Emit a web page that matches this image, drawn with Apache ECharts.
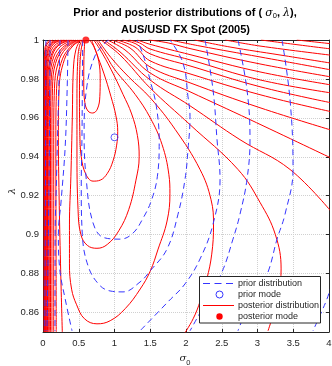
<!DOCTYPE html>
<html><head><meta charset="utf-8">
<script src="https://cdn.jsdelivr.net/npm/echarts@6/dist/echarts.min.js"></script>
<style>html,body{margin:0;padding:0;background:#fff}#c{width:332px;height:366px}</style>
</head><body><div id="c"></div>
<script>
// ---------- axis ticks ----------
const xTicks = [0, 0.5, 1, 1.5, 2, 2.5, 3, 3.5, 4];
const yTicks = [0.86, 0.88, 0.9, 0.92, 0.94, 0.96, 0.98, 1];
const legendNames = ['prior distribution', 'prior mode', 'posterior distribution', 'posterior mode'];

// ---------- modes ----------
const priorMode = [[1, 0.95]];
const posteriorMode = [[0.6, 1]];

// ---------- posterior contours (sigma0, lambda) ----------
const postC1 = [[0.585,1],[0.572,0.99],[0.57,0.978],[0.585,0.968],[0.63,0.9635],[0.695,0.9625],[0.76,0.9645],[0.795,0.971],[0.8,0.98],[0.78,0.989],[0.72,0.996],[0.65,1]];
const postC2 = [[0.56,1],[0.53,0.994],[0.515,0.985],[0.51,0.97],[0.515,0.953],[0.535,0.94],[0.6,0.931],[0.7,0.9275],[0.8,0.928],[0.9,0.9315],[0.98,0.938],[1.03,0.946],[1.045,0.953],[1.02,0.961],[0.95,0.971],[0.85,0.983],[0.74,0.994],[0.68,1]];
const postC3 = [[0.545,1],[0.505,0.996],[0.485,0.989],[0.475,0.97],[0.475,0.944],[0.49,0.913],[0.53,0.9],[0.62,0.8945],[0.755,0.893],[0.9,0.895],[1.06,0.902],[1.2,0.913],[1.3,0.928],[1.345,0.94],[1.32,0.951],[1.24,0.962],[1.12,0.972],[0.95,0.985],[0.8,0.995],[0.71,1]];
const postC4 = [[0.52,1],[0.46,0.995],[0.425,0.985],[0.41,0.96],[0.39,0.93],[0.37,0.905],[0.37,0.885],[0.4,0.872],[0.47,0.864],[0.58,0.8568],[0.755,0.8542],[0.94,0.8558],[1.15,0.862],[1.36,0.8721],[1.5,0.8813],[1.61,0.8926],[1.735,0.907],[1.775,0.921],[1.76,0.931],[1.665,0.9463],[1.5,0.96],[1.29,0.972],[1.0,0.985],[0.85,0.994],[0.74,1]];
const postC5L = [[0.545,1],[0.42,0.997],[0.3,0.99],[0.225,0.975],[0.215,0.95],[0.225,0.92],[0.245,0.885],[0.27,0.85]];
const postC5R = [[0.77,1],[0.95,0.991],[1.2,0.981],[1.5,0.9703],[1.85,0.954],[2.196,0.9335],[2.35,0.918],[2.385,0.905],[2.36,0.89],[2.29,0.877],[2.2,0.866],[2.1,0.8568],[1.958,0.848]];
const postC6L = [[0.53,1],[0.37,0.996],[0.25,0.988],[0.19,0.975],[0.18,0.95],[0.182,0.9],[0.185,0.85]];
const postC6R = [[0.81,1],[1.077,0.9923],[1.497,0.9754],[2.056,0.9565],[2.727,0.9335],[3.035,0.9166],[3.25,0.9],[3.33,0.8824],[3.3,0.87],[3.245,0.8619],[3.147,0.8506]];
const postC7L = [[0.51,1],[0.33,0.996],[0.21,0.988],[0.16,0.975],[0.15,0.95],[0.15,0.85]];
const postC7R = [[0.85,1],[1.077,0.9939],[1.497,0.9795],[2.056,0.9662],[2.755,0.9488],[3.455,0.9335],[4.05,0.911]];
const postC8L = [[0.49,1],[0.3,0.996],[0.175,0.988],[0.133,0.975],[0.125,0.95],[0.125,0.85]];
const postC8R = [[0.9,1],[1.147,0.9949],[1.497,0.9831],[2.056,0.9734],[2.895,0.9591],[4.05,0.939]];
const postC9L = [[0.46,1],[0.27,0.996],[0.15,0.988],[0.112,0.976],[0.105,0.95],[0.105,0.85]];
const postC9R = [[0.96,1],[1.217,0.9959],[1.497,0.9862],[2.056,0.978],[3.035,0.9652],[4.05,0.9535]];
const postC10L = [[0.43,1],[0.24,0.9965],[0.13,0.989],[0.095,0.977],[0.088,0.95],[0.088,0.85]];
const postC10R = [[1.03,1],[1.287,0.9964],[1.497,0.9893],[2.056,0.9826],[3.035,0.9719],[4.05,0.963]];
const postC11L = [[0.4,1],[0.21,0.997],[0.115,0.99],[0.08,0.978],[0.074,0.95],[0.074,0.85]];
const postC11R = [[1.11,1],[1.3,0.998],[1.497,0.9929],[2.056,0.9867],[3.035,0.976],[4.05,0.9676]];
const postC12L = [[0.37,1],[0.19,0.997],[0.1,0.99],[0.068,0.979],[0.063,0.95],[0.063,0.85]];
const postC12R = [[1.2,1],[1.35,0.9985],[1.497,0.9954],[2.056,0.9898],[3.035,0.9795],[4.05,0.9727]];
const postC13L = [[0.34,1],[0.17,0.9975],[0.085,0.991],[0.058,0.98],[0.053,0.95],[0.053,0.85]];
const postC13R = [[1.32,1],[1.497,0.9978],[2.056,0.9925],[3.035,0.9836],[4.05,0.9768]];
const postC14L = [[0.3,1],[0.15,0.998],[0.075,0.992],[0.05,0.981],[0.045,0.95],[0.045,0.85]];
const postC14R = [[1.48,1],[1.75,0.9985],[2.056,0.9956],[3.035,0.9877],[4.05,0.9809]];
const postC15L = [[0.26,1],[0.13,0.998],[0.065,0.993],[0.042,0.982],[0.038,0.95],[0.038,0.85]];
const postC15R = [[1.78,1],[2.196,0.9969],[3.035,0.9913],[4.05,0.9845]];
const postC16L = [[0.22,1],[0.11,0.998],[0.055,0.993],[0.035,0.983],[0.032,0.95],[0.032,0.85]];
const postC16R = [[2.12,1],[2.615,0.9964],[3.315,0.9923],[4.05,0.988]];
const postC17L = [[0.18,1],[0.09,0.998],[0.045,0.994],[0.028,0.984],[0.026,0.95],[0.026,0.85]];
const postC17R = [[2.55,1],[3.035,0.9969],[4.05,0.9921]];
const postC18L = [[0.14,1],[0.07,0.9985],[0.035,0.995],[0.022,0.985],[0.02,0.95],[0.02,0.85]];
const postC18R = [[3.05,1],[3.594,0.9974],[4.05,0.9953]];
const postC19L = [[0.1,1],[0.05,0.9985],[0.025,0.995],[0.016,0.985],[0.015,0.95],[0.015,0.85]];
const postC19R = [[3.55,1],[4.05,0.998]];

// ---------- prior contours (sigma0, lambda) ----------
const priorB0 = [[0.923,1],[0.867,0.9985],[0.727,0.9918],[0.615,0.9765],[0.575,0.9524],[0.605,0.9284],[0.7,0.906],[0.85,0.8985],[1.077,0.8977],[1.25,0.9005],[1.4,0.9085],[1.52,0.918],[1.6,0.93],[1.625,0.948],[1.585,0.966],[1.497,0.9795],[1.4,0.9925],[1.315,1]];
const priorB1 = [[0.555,1],[0.55,0.975],[0.545,0.95],[0.535,0.925],[0.55,0.9],[0.63,0.884],[0.78,0.8745],[0.937,0.8711],[1.119,0.8706],[1.357,0.8757],[1.497,0.8813],[1.734,0.8926],[1.888,0.9105],[1.986,0.9284],[2.028,0.9437],[2.056,0.9606],[2.028,0.9708],[1.958,0.9882],[1.776,1]];
const priorB2L = [[0.35,1],[0.338,0.975],[0.31,0.945],[0.255,0.918],[0.215,0.9],[0.235,0.882],[0.31,0.867],[0.406,0.8506]];
const priorB2R = [[2.266,1],[2.378,0.9744],[2.434,0.9488],[2.476,0.9284],[2.378,0.9054],[2.196,0.8875],[1.986,0.8747],[1.748,0.8655],[1.357,0.8506]];
const priorB3L = [[0.238,1],[0.21,0.96],[0.19,0.93],[0.17,0.9],[0.168,0.8506]];
const priorB3R = [[2.727,1],[2.853,0.9744],[2.895,0.9488],[2.853,0.9284],[2.755,0.9105],[2.657,0.8977],[2.503,0.8808],[2.266,0.8645],[2.056,0.8506]];
const priorB4L = [[0.098,1],[0.09,0.95],[0.075,0.9],[0.056,0.8506]];
const priorB4R = [[3.343,1],[3.455,0.9693],[3.497,0.9335],[3.385,0.9105],[3.273,0.8977],[3.147,0.8808],[2.965,0.867],[2.797,0.8568],[2.727,0.8506]];
const priorB5L = [[0.04,1],[0.035,0.93],[0.025,0.8506]];
const priorB5R = [[4.042,0.8747],[3.972,0.867],[3.902,0.8609],[3.776,0.8506]];

const posteriorLines = [postC1,postC2,postC3,postC4,postC5L,postC5R,postC6L,postC6R,postC7L,postC7R,postC8L,postC8R,postC9L,postC9R,postC10L,postC10R,postC11L,postC11R,postC12L,postC12R,postC13L,postC13R,postC14L,postC14R,postC15L,postC15R,postC16L,postC16R,postC17L,postC17R,postC18L,postC18R,postC19L,postC19R];
const priorLines = [priorB0,priorB1,priorB2L,priorB2R,priorB3L,priorB3R,priorB4L,priorB4R,priorB5L,priorB5R];

const RED = '#ff0000', BLUE = '#3535ff', AX = '#262626';
const FONT = 'Liberation Sans, Arial, Helvetica, sans-serif';

const series = [];
priorLines.forEach(d => series.push({
  type:'line', name:legendNames[0], data:d, smooth:0.4, symbol:'none', silent:true,
  color:BLUE, lineStyle:{color:BLUE, width:1, type:[6,4]}, z:3
}));
series.push({type:'scatter', name:legendNames[1], data:priorMode, symbol:'circle', symbolSize:7,
  color:BLUE, itemStyle:{color:'rgba(255,255,255,0)', borderColor:BLUE, borderWidth:1}, clip:false, z:5, silent:true});
posteriorLines.forEach(d => series.push({
  type:'line', name:legendNames[2], data:d, smooth:0.4, symbol:'none', silent:true,
  color:RED, lineStyle:{color:RED, width:1}, z:2
}));
series.push({type:'scatter', name:legendNames[3], data:posteriorMode, symbol:'circle', symbolSize:7,
  color:RED, itemStyle:{color:RED}, clip:false, z:6, silent:true});

// legend box (drawn as annotation graphics)
const LX = 199.5, LY = 276.5, rowY = [283.5, 294.5, 305.5, 316.5];
const legendGraphics = [
  {type:'rect', z:200, shape:{x:LX, y:LY, width:121, height:46.5}, style:{fill:'#fff', stroke:AX, lineWidth:1}},
  {type:'line', z:201, shape:{x1:203, y1:rowY[0], x2:234, y2:rowY[0]}, style:{stroke:BLUE, lineWidth:1, lineDash:[7,4.5]}},
  {type:'circle', z:201, shape:{cx:219.5, cy:rowY[1], r:3.5}, style:{fill:'none', stroke:BLUE, lineWidth:1}},
  {type:'line', z:201, shape:{x1:203, y1:rowY[2], x2:234, y2:rowY[2]}, style:{stroke:RED, lineWidth:1}},
  {type:'circle', z:201, shape:{cx:219.5, cy:rowY[3], r:3.2}, style:{fill:RED, stroke:null}}
].concat(legendNames.map((n, i) => ({type:'text', z:201,
  style:{x:238, y:rowY[i], text:n, fontSize:9, fontFamily:FONT, fill:AX, verticalAlign:'middle', align:'left'}})));

const baseAxisLine = {show:true, onZero:false, lineStyle:{color:AX, width:1}};
const option = {
  animation:false,
  backgroundColor:'#fff',
  grid:{left:43, top:40, width:286, height:292, outerBoundsMode:'none', containLabel:false},
  xAxis:[
    {type:'value', min:0, max:4, interval:0.5, position:'bottom',
     axisLine:baseAxisLine, axisTick:{show:true, inside:true, length:3, lineStyle:{color:AX}},
     axisLabel:{fontSize:9.5, color:AX, margin:6, fontFamily:FONT},
     splitLine:{show:true, lineStyle:{color:'#d0d0d0', type:'dotted', width:1}}},
    {type:'value', min:0, max:4, interval:0.5, position:'top',
     axisLine:baseAxisLine, axisTick:{show:true, inside:true, length:3, lineStyle:{color:AX}},
     axisLabel:{show:false}, splitLine:{show:false}}
  ],
  yAxis:[
    {type:'value', min:0.85, max:1, position:'left',
     axisLine:baseAxisLine, axisTick:{show:true, inside:true, length:3, customValues:yTicks, lineStyle:{color:AX}},
     axisLabel:{fontSize:9.5, color:AX, margin:4, fontFamily:FONT, customValues:yTicks},
     splitLine:{show:true, lineStyle:{color:'#d0d0d0', type:'dotted', width:1}}},
    {type:'value', min:0.85, max:1, position:'right',
     axisLine:baseAxisLine, axisTick:{show:true, inside:true, length:3, customValues:yTicks, lineStyle:{color:AX}},
     axisLabel:{show:false, customValues:yTicks}, splitLine:{show:false}}
  ],
  graphic:[
    {type:'text', z:100, style:{x:185, y:13, align:'center', verticalAlign:'middle',
      text:'{b|Prior and posterior distributions of ( }{g|σ}{s|0}{b|, }{g|λ}{b|),}',
      rich:{
        b:{fontSize:11, fontWeight:'bold', fontFamily:FONT, fill:'#000', lineHeight:14, verticalAlign:'middle'},
        g:{fontSize:11, fontStyle:'italic', fontFamily:'DejaVu Serif, serif', fill:'#000', lineHeight:14, verticalAlign:'middle'},
        s:{fontSize:7.5, fontFamily:FONT, fill:'#000', lineHeight:7, verticalAlign:'bottom'}
      }}},
    {type:'text', z:100, style:{x:185.5, y:30, align:'center', verticalAlign:'middle',
      text:'AUS/USD FX Spot (2005)', fontSize:11, fontWeight:'bold', fontFamily:FONT, fill:'#000'}},
    {type:'text', z:100, style:{x:185, y:358, align:'center', verticalAlign:'middle',
      text:'{g|σ}{s|0}',
      rich:{
        g:{fontSize:10, fontStyle:'italic', fontFamily:'DejaVu Serif, serif', fill:AX, lineHeight:18, verticalAlign:'middle'},
        s:{fontSize:7.5, fontFamily:FONT, fill:AX, lineHeight:6, verticalAlign:'bottom'}
      }}},
    {type:'text', z:100, x:12, y:191, rotation:Math.PI/2, style:{x:0, y:0, align:'center', verticalAlign:'middle',
      text:'λ', fontSize:10, fontStyle:'italic', fontFamily:'DejaVu Serif, serif', fill:AX}}
  ].concat(legendGraphics),
  series:series
};
const chart = echarts.init(document.getElementById('c'), null, {renderer:'canvas'});
chart.setOption(option);
</script></body></html>
